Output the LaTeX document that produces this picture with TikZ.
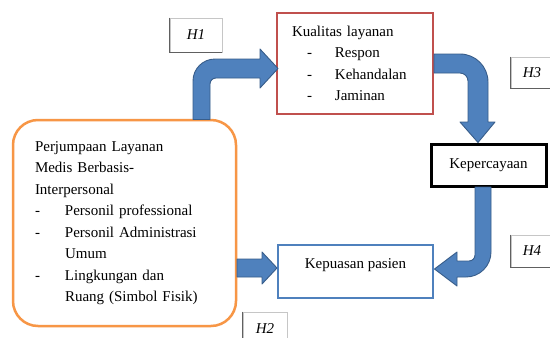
\documentclass[tikz,border=0pt]{standalone}
\usepackage{fontspec}
\setmainfont{Liberation Serif}
\definecolor{obl}{HTML}{4F81BD}
\definecolor{obd}{HTML}{385D8A}
\definecolor{ored}{HTML}{C0504D}
\definecolor{oorange}{HTML}{F79646}
\begin{document}
\begin{tikzpicture}[x=1pt,y=-1pt,
  every node/.style={font=\fontsize{15}{21.5}\selectfont, inner sep=0pt, fill=white},
  hbox/.style={draw=gray!45, line width=0.7pt, fill=white, font=\fontsize{15}{18}\selectfont\itshape},
  hedge/.style={draw=gray!75!black, line width=0.8pt},
  fat/.style={fill=obl, draw=obd, line width=0.9pt, line join=round},
]
\path[use as bounding box] (0,0) rectangle (550,338);
\clip (0,0) rectangle (550,338);
\fill[white] (0,0) rectangle (550,338);

% main boxes
\node[draw=oorange, line width=2.5pt, rounded corners=25pt, minimum width=223pt,
      minimum height=206pt, text width=179pt, align=left] (enc) at (124.5,223)
  {Perjumpaan Layanan\\
   Medis Berbasis-\\
   Interpersonal\\
   \makebox[30pt][l]{-}Personil professional\\
   \makebox[30pt][l]{-}Personil Administrasi\\
   \hspace*{30pt}Umum\\
   \makebox[30pt][l]{-}Lingkungan dan\\
   \hspace*{30pt}Ruang (Simbol Fisik)};

\node[draw=ored, line width=2.5pt, minimum width=156pt, minimum height=101pt,
      text width=126pt, align=left] (kual) at (355,63.5)
  {Kualitas layanan\\
   \hspace*{15pt}\makebox[28pt][l]{-}Respon\\
   \hspace*{15pt}\makebox[28pt][l]{-}Kehandalan\\
   \hspace*{15pt}\makebox[28pt][l]{-}Jaminan};

\node[draw=black, line width=3pt, minimum width=115pt, minimum height=42pt] (kep)
  at (488.5,165) {Kepercayaan};

\node[draw=obl, line width=2.5pt, minimum width=155pt, minimum height=53pt,
      text height=10pt, text depth=16pt] (puas) at (355.5,271.5) {Kepuasan pasien};

% hypothesis labels
\node[hbox, minimum width=52pt, minimum height=34pt] (h1) at (196,35) {H1};
\node[hbox, minimum width=42pt, minimum height=31pt] (h3) at (532,72.5) {H3};
\node[hbox, minimum width=42pt, minimum height=32pt] (h4) at (532,251) {H4};
\node[hbox, minimum width=44pt, minimum height=34pt] (h2) at (265,329) {H2};
\foreach \h in {h1,h2,h3,h4}
  \draw[hedge] (\h.north west) -- (\h.south west) -- (\h.south east);

% fat arrows
% H1: encounter -> quality
\draw[fat] (193,119.5) -- (193,81) .. controls (193,68.8) and (202.8,59) .. (215,59)
  -- (260,59) -- (260,49) -- (278,68.5) -- (260,88) -- (260,78) -- (216,78)
  .. controls (212.7,78) and (210,80.7) .. (210,84) -- (210,119.5) -- cycle;
% H3: quality -> trust
\draw[fat] (434,54) -- (460,54) .. controls (475.5,54) and (488,66.5) .. (488,82)
  -- (488,122) -- (495,122) -- (478,142.5) -- (460,122) -- (468,122) -- (468,81)
  .. controls (468,76.6) and (464.4,73) .. (460,73) -- (434,73) -- cycle;
% H4: trust -> satisfaction
\draw[fat] (475,187) -- (475,255) .. controls (475,258.3) and (472.3,261) .. (469,261)
  -- (457,261) -- (457,252) -- (434.5,269) -- (457,286) -- (457,277) -- (466,277)
  .. controls (479.8,277) and (491,265.8) .. (491,252) -- (491,187) -- cycle;
% H2: encounter -> satisfaction
\draw[fat] (237,259) -- (262,259) -- (262,252) -- (277,268) -- (262,284) -- (262,277)
  -- (237,277) -- cycle;
\end{tikzpicture}
\end{document}
